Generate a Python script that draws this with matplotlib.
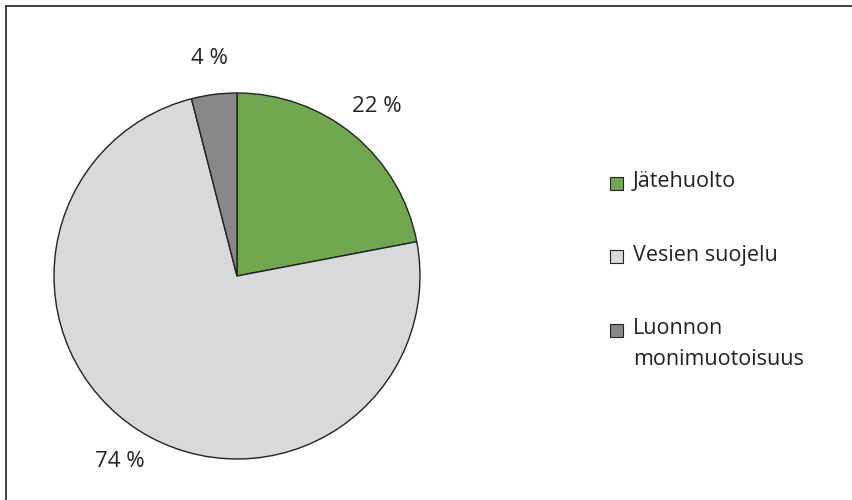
import matplotlib.pyplot as plt
from matplotlib.lines import Line2D
from matplotlib.patches import Rectangle

# osuudet (%) myötäpäivään ylhäältä alkaen
categories = ["Jätehuolto", "Vesien suojelu", "Luonnon\nmonimuotoisuus"]
shares = [22, 74, 4]
colors = ["#6fa84f", "#d8d9db", "#87888a"]

plt.rcParams["font.family"] = ["Open Sans", "DejaVu Sans"]

W, H = 852, 500
fig = plt.figure(figsize=(W / 100, H / 100), dpi=100)

# piirakka
ax = fig.add_axes([(237 - 183) / W, (H - 276 - 183) / H, 366 / W, 366 / H])
wedges, texts, pcts = ax.pie(
    shares,
    colors=colors,
    startangle=90,
    counterclock=False,
    autopct=lambda p: f"{p:.0f} %",
    pctdistance=1.2,
    wedgeprops={"edgecolor": "#222222", "linewidth": 1.0},
    textprops={"fontsize": 16, "color": "#222222"},
)
ax.set_xlim(-1, 1)
ax.set_ylim(-1, 1)

# selite
y0 = H - 183
for i, (name, c) in enumerate(zip(categories, colors)):
    y = y0 - i * 73.5
    fig.add_artist(Rectangle((610 / W, (y - 6.5) / H), 13 / W, 13 / H,
                             facecolor=c, edgecolor="#222222", linewidth=0.8,
                             transform=fig.transFigure))
    fig.text(633 / W, (y + 12) / H, name, fontsize=15.5, color="#222222",
             va="top", ha="left", linespacing=1.6)

# kehys vasemmalla ja ylhäällä
fig.add_artist(Line2D([5.5 / W, 5.5 / W], [0, 1 - 5.5 / H], color="#222222", lw=1.2))
fig.add_artist(Line2D([5.5 / W, 1], [1 - 5.5 / H, 1 - 5.5 / H], color="#222222", lw=1.2))

fig.savefig("out.png", dpi=100)
